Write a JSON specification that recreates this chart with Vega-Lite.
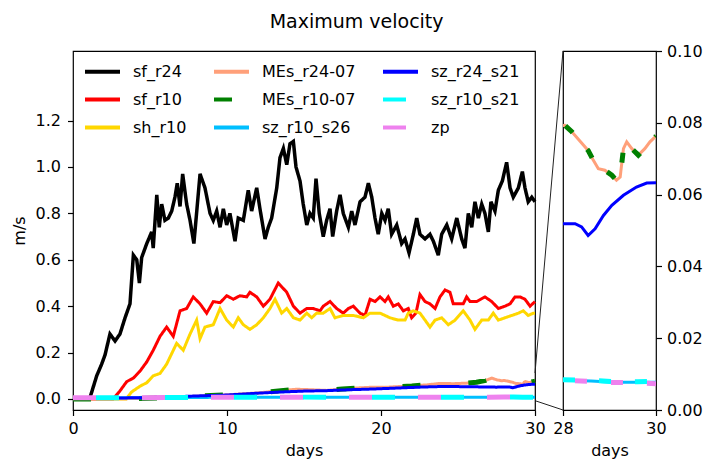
{
  "$schema": "https://vega.github.io/schema/vega-lite/v6.json",
  "padding": {"left": 10, "top": 13, "right": 0, "bottom": 2},
  "title": {"text": "Maximum velocity", "fontSize": 19, "font": "DejaVu Sans", "fontWeight": "normal", "color": "#000", "anchor": "middle", "offset": 10},
  "spacing": 28,
  "bounds": "flush",
  "config": {
    "font": "DejaVu Sans",
    "view": {"stroke": "#000", "strokeWidth": 1.2},
    "axis": {
      "domain": false, "grid": false,
      "labelFont": "DejaVu Sans", "labelFontSize": 16, "labelColor": "#000",
      "titleFont": "DejaVu Sans", "titleFontSize": 16, "titleFontWeight": "normal", "titleColor": "#000",
      "tickColor": "#000", "tickSize": 5.5, "tickWidth": 1.2, "labelPadding": 5,
      "labelFlush": false, "labelOverlap": false
    }
  },
  "datasets": {
    "vel": [
      {"series": "sf_r24", "day": 0, "v": 0.0},
      {"series": "sf_r24", "day": 0.6, "v": 0.0},
      {"series": "sf_r24", "day": 1.1, "v": 0.005},
      {"series": "sf_r24", "day": 1.54, "v": 0.10},
      {"series": "sf_r24", "day": 1.86, "v": 0.15},
      {"series": "sf_r24", "day": 2.08, "v": 0.19},
      {"series": "sf_r24", "day": 2.4, "v": 0.28},
      {"series": "sf_r24", "day": 2.73, "v": 0.25},
      {"series": "sf_r24", "day": 3.05, "v": 0.28},
      {"series": "sf_r24", "day": 3.38, "v": 0.35},
      {"series": "sf_r24", "day": 3.7, "v": 0.41},
      {"series": "sf_r24", "day": 3.92, "v": 0.62},
      {"series": "sf_r24", "day": 4.14, "v": 0.60},
      {"series": "sf_r24", "day": 4.31, "v": 0.50},
      {"series": "sf_r24", "day": 4.46, "v": 0.61},
      {"series": "sf_r24", "day": 4.79, "v": 0.67},
      {"series": "sf_r24", "day": 5.11, "v": 0.72},
      {"series": "sf_r24", "day": 5.21, "v": 0.65},
      {"series": "sf_r24", "day": 5.44, "v": 0.88},
      {"series": "sf_r24", "day": 5.6, "v": 0.74},
      {"series": "sf_r24", "day": 5.76, "v": 0.84},
      {"series": "sf_r24", "day": 5.97, "v": 0.77},
      {"series": "sf_r24", "day": 6.19, "v": 0.78},
      {"series": "sf_r24", "day": 6.41, "v": 0.81},
      {"series": "sf_r24", "day": 6.62, "v": 0.87},
      {"series": "sf_r24", "day": 6.77, "v": 0.93},
      {"series": "sf_r24", "day": 6.95, "v": 0.83},
      {"series": "sf_r24", "day": 7.12, "v": 0.97},
      {"series": "sf_r24", "day": 7.38, "v": 0.84},
      {"series": "sf_r24", "day": 7.6, "v": 0.77},
      {"series": "sf_r24", "day": 7.85, "v": 0.67},
      {"series": "sf_r24", "day": 8.25, "v": 0.97},
      {"series": "sf_r24", "day": 8.57, "v": 0.91},
      {"series": "sf_r24", "day": 8.9, "v": 0.80},
      {"series": "sf_r24", "day": 9.11, "v": 0.77},
      {"series": "sf_r24", "day": 9.33, "v": 0.81},
      {"series": "sf_r24", "day": 9.55, "v": 0.74},
      {"series": "sf_r24", "day": 9.76, "v": 0.82},
      {"series": "sf_r24", "day": 9.98, "v": 0.75},
      {"series": "sf_r24", "day": 10.19, "v": 0.80},
      {"series": "sf_r24", "day": 10.52, "v": 0.68},
      {"series": "sf_r24", "day": 10.73, "v": 0.78},
      {"series": "sf_r24", "day": 11.06, "v": 0.77},
      {"series": "sf_r24", "day": 11.38, "v": 0.90},
      {"series": "sf_r24", "day": 11.6, "v": 0.81},
      {"series": "sf_r24", "day": 11.93, "v": 0.91},
      {"series": "sf_r24", "day": 12.14, "v": 0.82},
      {"series": "sf_r24", "day": 12.47, "v": 0.69},
      {"series": "sf_r24", "day": 12.68, "v": 0.74},
      {"series": "sf_r24", "day": 12.9, "v": 0.78},
      {"series": "sf_r24", "day": 13.23, "v": 0.91},
      {"series": "sf_r24", "day": 13.44, "v": 1.04},
      {"series": "sf_r24", "day": 13.66, "v": 1.08},
      {"series": "sf_r24", "day": 13.88, "v": 1.01},
      {"series": "sf_r24", "day": 14.09, "v": 1.10},
      {"series": "sf_r24", "day": 14.31, "v": 1.11},
      {"series": "sf_r24", "day": 14.48, "v": 1.00},
      {"series": "sf_r24", "day": 14.74, "v": 0.94},
      {"series": "sf_r24", "day": 14.95, "v": 0.84},
      {"series": "sf_r24", "day": 15.18, "v": 0.75},
      {"series": "sf_r24", "day": 15.39, "v": 0.80},
      {"series": "sf_r24", "day": 15.6, "v": 0.78},
      {"series": "sf_r24", "day": 15.78, "v": 0.95},
      {"series": "sf_r24", "day": 15.99, "v": 0.80},
      {"series": "sf_r24", "day": 16.25, "v": 0.70},
      {"series": "sf_r24", "day": 16.47, "v": 0.77},
      {"series": "sf_r24", "day": 16.69, "v": 0.82},
      {"series": "sf_r24", "day": 16.86, "v": 0.70},
      {"series": "sf_r24", "day": 17.12, "v": 0.81},
      {"series": "sf_r24", "day": 17.34, "v": 0.88},
      {"series": "sf_r24", "day": 17.55, "v": 0.80},
      {"series": "sf_r24", "day": 17.88, "v": 0.74},
      {"series": "sf_r24", "day": 18.1, "v": 0.81},
      {"series": "sf_r24", "day": 18.31, "v": 0.75},
      {"series": "sf_r24", "day": 18.64, "v": 0.85},
      {"series": "sf_r24", "day": 18.96, "v": 0.87},
      {"series": "sf_r24", "day": 19.18, "v": 0.93},
      {"series": "sf_r24", "day": 19.4, "v": 0.87},
      {"series": "sf_r24", "day": 19.61, "v": 0.78},
      {"series": "sf_r24", "day": 19.82, "v": 0.71},
      {"series": "sf_r24", "day": 20.05, "v": 0.80},
      {"series": "sf_r24", "day": 20.26, "v": 0.77},
      {"series": "sf_r24", "day": 20.47, "v": 0.82},
      {"series": "sf_r24", "day": 20.69, "v": 0.71},
      {"series": "sf_r24", "day": 21.02, "v": 0.75},
      {"series": "sf_r24", "day": 21.34, "v": 0.67},
      {"series": "sf_r24", "day": 21.56, "v": 0.69},
      {"series": "sf_r24", "day": 21.82, "v": 0.63},
      {"series": "sf_r24", "day": 22.1, "v": 0.71},
      {"series": "sf_r24", "day": 22.32, "v": 0.78},
      {"series": "sf_r24", "day": 22.53, "v": 0.71},
      {"series": "sf_r24", "day": 22.86, "v": 0.69},
      {"series": "sf_r24", "day": 23.18, "v": 0.71},
      {"series": "sf_r24", "day": 23.4, "v": 0.68},
      {"series": "sf_r24", "day": 23.72, "v": 0.62},
      {"series": "sf_r24", "day": 23.94, "v": 0.71},
      {"series": "sf_r24", "day": 24.27, "v": 0.75},
      {"series": "sf_r24", "day": 24.59, "v": 0.69},
      {"series": "sf_r24", "day": 24.92, "v": 0.78},
      {"series": "sf_r24", "day": 25.24, "v": 0.69},
      {"series": "sf_r24", "day": 25.45, "v": 0.65},
      {"series": "sf_r24", "day": 25.67, "v": 0.80},
      {"series": "sf_r24", "day": 25.89, "v": 0.74},
      {"series": "sf_r24", "day": 26.1, "v": 0.85},
      {"series": "sf_r24", "day": 26.32, "v": 0.78},
      {"series": "sf_r24", "day": 26.54, "v": 0.84},
      {"series": "sf_r24", "day": 26.75, "v": 0.80},
      {"series": "sf_r24", "day": 26.97, "v": 0.72},
      {"series": "sf_r24", "day": 27.14, "v": 0.85},
      {"series": "sf_r24", "day": 27.4, "v": 0.81},
      {"series": "sf_r24", "day": 27.62, "v": 0.90},
      {"series": "sf_r24", "day": 27.88, "v": 0.94},
      {"series": "sf_r24", "day": 28.16, "v": 1.02},
      {"series": "sf_r24", "day": 28.38, "v": 0.91},
      {"series": "sf_r24", "day": 28.59, "v": 0.87},
      {"series": "sf_r24", "day": 28.92, "v": 0.91},
      {"series": "sf_r24", "day": 29.18, "v": 0.98},
      {"series": "sf_r24", "day": 29.35, "v": 0.91},
      {"series": "sf_r24", "day": 29.56, "v": 0.85},
      {"series": "sf_r24", "day": 29.79, "v": 0.87},
      {"series": "sf_r24", "day": 30.0, "v": 0.85},

      {"series": "sf_r10", "day": 0, "v": 0.0},
      {"series": "sf_r10", "day": 2.6, "v": 0.0},
      {"series": "sf_r10", "day": 3.05, "v": 0.035},
      {"series": "sf_r10", "day": 3.49, "v": 0.075},
      {"series": "sf_r10", "day": 3.92, "v": 0.09},
      {"series": "sf_r10", "day": 4.35, "v": 0.12},
      {"series": "sf_r10", "day": 4.79, "v": 0.16},
      {"series": "sf_r10", "day": 5.21, "v": 0.21},
      {"series": "sf_r10", "day": 5.65, "v": 0.27},
      {"series": "sf_r10", "day": 6.08, "v": 0.31},
      {"series": "sf_r10", "day": 6.51, "v": 0.27},
      {"series": "sf_r10", "day": 6.95, "v": 0.38},
      {"series": "sf_r10", "day": 7.38, "v": 0.39},
      {"series": "sf_r10", "day": 7.81, "v": 0.44},
      {"series": "sf_r10", "day": 8.25, "v": 0.41},
      {"series": "sf_r10", "day": 8.68, "v": 0.37},
      {"series": "sf_r10", "day": 9.11, "v": 0.42},
      {"series": "sf_r10", "day": 9.55, "v": 0.415},
      {"series": "sf_r10", "day": 9.98, "v": 0.445},
      {"series": "sf_r10", "day": 10.41, "v": 0.43},
      {"series": "sf_r10", "day": 10.84, "v": 0.445},
      {"series": "sf_r10", "day": 11.28, "v": 0.44},
      {"series": "sf_r10", "day": 11.49, "v": 0.46},
      {"series": "sf_r10", "day": 11.93, "v": 0.44},
      {"series": "sf_r10", "day": 12.36, "v": 0.40},
      {"series": "sf_r10", "day": 12.79, "v": 0.43},
      {"series": "sf_r10", "day": 13.33, "v": 0.50},
      {"series": "sf_r10", "day": 13.88, "v": 0.46},
      {"series": "sf_r10", "day": 14.31, "v": 0.40},
      {"series": "sf_r10", "day": 14.74, "v": 0.37},
      {"series": "sf_r10", "day": 15.18, "v": 0.39},
      {"series": "sf_r10", "day": 15.6, "v": 0.39},
      {"series": "sf_r10", "day": 16.04, "v": 0.38},
      {"series": "sf_r10", "day": 16.25, "v": 0.40},
      {"series": "sf_r10", "day": 16.69, "v": 0.42},
      {"series": "sf_r10", "day": 17.12, "v": 0.39},
      {"series": "sf_r10", "day": 17.55, "v": 0.37},
      {"series": "sf_r10", "day": 17.88, "v": 0.39},
      {"series": "sf_r10", "day": 18.2, "v": 0.40},
      {"series": "sf_r10", "day": 18.64, "v": 0.37},
      {"series": "sf_r10", "day": 18.96, "v": 0.36},
      {"series": "sf_r10", "day": 19.29, "v": 0.43},
      {"series": "sf_r10", "day": 19.61, "v": 0.42},
      {"series": "sf_r10", "day": 19.94, "v": 0.44},
      {"series": "sf_r10", "day": 20.26, "v": 0.42},
      {"series": "sf_r10", "day": 20.47, "v": 0.44},
      {"series": "sf_r10", "day": 20.8, "v": 0.40},
      {"series": "sf_r10", "day": 21.12, "v": 0.41},
      {"series": "sf_r10", "day": 21.45, "v": 0.38},
      {"series": "sf_r10", "day": 21.77, "v": 0.39},
      {"series": "sf_r10", "day": 21.99, "v": 0.35},
      {"series": "sf_r10", "day": 22.27, "v": 0.37},
      {"series": "sf_r10", "day": 22.53, "v": 0.45},
      {"series": "sf_r10", "day": 22.86, "v": 0.42},
      {"series": "sf_r10", "day": 23.18, "v": 0.41},
      {"series": "sf_r10", "day": 23.51, "v": 0.39},
      {"series": "sf_r10", "day": 23.83, "v": 0.44},
      {"series": "sf_r10", "day": 24.16, "v": 0.47},
      {"series": "sf_r10", "day": 24.48, "v": 0.46},
      {"series": "sf_r10", "day": 24.69, "v": 0.41},
      {"series": "sf_r10", "day": 25.02, "v": 0.41},
      {"series": "sf_r10", "day": 25.34, "v": 0.41},
      {"series": "sf_r10", "day": 25.56, "v": 0.44},
      {"series": "sf_r10", "day": 25.78, "v": 0.42},
      {"series": "sf_r10", "day": 26.21, "v": 0.42},
      {"series": "sf_r10", "day": 26.75, "v": 0.44},
      {"series": "sf_r10", "day": 27.19, "v": 0.42},
      {"series": "sf_r10", "day": 27.62, "v": 0.39},
      {"series": "sf_r10", "day": 28.05, "v": 0.40},
      {"series": "sf_r10", "day": 28.38, "v": 0.41},
      {"series": "sf_r10", "day": 28.7, "v": 0.44},
      {"series": "sf_r10", "day": 29.03, "v": 0.44},
      {"series": "sf_r10", "day": 29.35, "v": 0.43},
      {"series": "sf_r10", "day": 29.68, "v": 0.40},
      {"series": "sf_r10", "day": 30.0, "v": 0.42},

      {"series": "sh_r10", "day": 0, "v": 0.0},
      {"series": "sh_r10", "day": 3.45, "v": 0.0},
      {"series": "sh_r10", "day": 3.8, "v": 0.03},
      {"series": "sh_r10", "day": 4.35, "v": 0.055},
      {"series": "sh_r10", "day": 4.79, "v": 0.07},
      {"series": "sh_r10", "day": 5.21, "v": 0.10},
      {"series": "sh_r10", "day": 5.65, "v": 0.11},
      {"series": "sh_r10", "day": 6.08, "v": 0.15},
      {"series": "sh_r10", "day": 6.73, "v": 0.24},
      {"series": "sh_r10", "day": 7.16, "v": 0.21},
      {"series": "sh_r10", "day": 7.6, "v": 0.28},
      {"series": "sh_r10", "day": 8.03, "v": 0.34},
      {"series": "sh_r10", "day": 8.25, "v": 0.26},
      {"series": "sh_r10", "day": 8.57, "v": 0.31},
      {"series": "sh_r10", "day": 9.11, "v": 0.32},
      {"series": "sh_r10", "day": 9.55, "v": 0.39},
      {"series": "sh_r10", "day": 9.98, "v": 0.34},
      {"series": "sh_r10", "day": 10.41, "v": 0.31},
      {"series": "sh_r10", "day": 10.73, "v": 0.35},
      {"series": "sh_r10", "day": 11.06, "v": 0.32},
      {"series": "sh_r10", "day": 11.49, "v": 0.30},
      {"series": "sh_r10", "day": 11.93, "v": 0.32},
      {"series": "sh_r10", "day": 12.36, "v": 0.35},
      {"series": "sh_r10", "day": 12.79, "v": 0.39},
      {"series": "sh_r10", "day": 13.12, "v": 0.43},
      {"series": "sh_r10", "day": 13.55, "v": 0.37},
      {"series": "sh_r10", "day": 13.88, "v": 0.39},
      {"series": "sh_r10", "day": 14.31, "v": 0.35},
      {"series": "sh_r10", "day": 14.74, "v": 0.34},
      {"series": "sh_r10", "day": 15.18, "v": 0.37},
      {"series": "sh_r10", "day": 15.5, "v": 0.35},
      {"series": "sh_r10", "day": 15.82, "v": 0.37},
      {"series": "sh_r10", "day": 16.25, "v": 0.37},
      {"series": "sh_r10", "day": 16.69, "v": 0.39},
      {"series": "sh_r10", "day": 17.01, "v": 0.35},
      {"series": "sh_r10", "day": 17.55, "v": 0.36},
      {"series": "sh_r10", "day": 18.2, "v": 0.36},
      {"series": "sh_r10", "day": 18.85, "v": 0.35},
      {"series": "sh_r10", "day": 19.29, "v": 0.37},
      {"series": "sh_r10", "day": 19.94, "v": 0.37},
      {"series": "sh_r10", "day": 20.58, "v": 0.35},
      {"series": "sh_r10", "day": 21.12, "v": 0.34},
      {"series": "sh_r10", "day": 21.56, "v": 0.34},
      {"series": "sh_r10", "day": 21.77, "v": 0.37},
      {"series": "sh_r10", "day": 22.1, "v": 0.38},
      {"series": "sh_r10", "day": 22.53, "v": 0.37},
      {"series": "sh_r10", "day": 22.86, "v": 0.34},
      {"series": "sh_r10", "day": 23.18, "v": 0.31},
      {"series": "sh_r10", "day": 23.51, "v": 0.34},
      {"series": "sh_r10", "day": 23.94, "v": 0.35},
      {"series": "sh_r10", "day": 24.37, "v": 0.32},
      {"series": "sh_r10", "day": 24.81, "v": 0.34},
      {"series": "sh_r10", "day": 25.34, "v": 0.38},
      {"series": "sh_r10", "day": 25.78, "v": 0.34},
      {"series": "sh_r10", "day": 26.1, "v": 0.30},
      {"series": "sh_r10", "day": 26.54, "v": 0.34},
      {"series": "sh_r10", "day": 26.97, "v": 0.34},
      {"series": "sh_r10", "day": 27.29, "v": 0.37},
      {"series": "sh_r10", "day": 27.62, "v": 0.34},
      {"series": "sh_r10", "day": 28.05, "v": 0.35},
      {"series": "sh_r10", "day": 28.49, "v": 0.36},
      {"series": "sh_r10", "day": 28.92, "v": 0.37},
      {"series": "sh_r10", "day": 29.24, "v": 0.38},
      {"series": "sh_r10", "day": 29.56, "v": 0.36},
      {"series": "sh_r10", "day": 29.89, "v": 0.37},
      {"series": "sh_r10", "day": 30.0, "v": 0.37},

      {"series": "MEs_r24-07", "day": 0, "v": 0.0},
      {"series": "MEs_r24-07", "day": 2, "v": 0.0},
      {"series": "MEs_r24-07", "day": 4, "v": 0.002},
      {"series": "MEs_r24-07", "day": 6, "v": 0.005},
      {"series": "MEs_r24-07", "day": 8, "v": 0.012},
      {"series": "MEs_r24-07", "day": 10, "v": 0.018},
      {"series": "MEs_r24-07", "day": 12, "v": 0.026},
      {"series": "MEs_r24-07", "day": 13.5, "v": 0.036},
      {"series": "MEs_r24-07", "day": 14.5, "v": 0.042},
      {"series": "MEs_r24-07", "day": 15.4, "v": 0.040},
      {"series": "MEs_r24-07", "day": 16.5, "v": 0.037},
      {"series": "MEs_r24-07", "day": 17.5, "v": 0.043},
      {"series": "MEs_r24-07", "day": 18.6, "v": 0.048},
      {"series": "MEs_r24-07", "day": 19.5, "v": 0.051},
      {"series": "MEs_r24-07", "day": 20.2, "v": 0.050},
      {"series": "MEs_r24-07", "day": 21, "v": 0.053},
      {"series": "MEs_r24-07", "day": 22, "v": 0.056},
      {"series": "MEs_r24-07", "day": 23, "v": 0.061},
      {"series": "MEs_r24-07", "day": 23.8, "v": 0.067},
      {"series": "MEs_r24-07", "day": 24.7, "v": 0.066},
      {"series": "MEs_r24-07", "day": 25.5, "v": 0.068},
      {"series": "MEs_r24-07", "day": 26.2, "v": 0.072},
      {"series": "MEs_r24-07", "day": 26.8, "v": 0.080},
      {"series": "MEs_r24-07", "day": 27.2, "v": 0.090},
      {"series": "MEs_r24-07", "day": 27.5, "v": 0.083},
      {"series": "MEs_r24-07", "day": 27.8, "v": 0.079},
      {"series": "MEs_r24-07", "day": 28.04, "v": 0.0793},
      {"series": "MEs_r24-07", "day": 28.19, "v": 0.0775},
      {"series": "MEs_r24-07", "day": 28.54, "v": 0.0723},
      {"series": "MEs_r24-07", "day": 28.65, "v": 0.0696},
      {"series": "MEs_r24-07", "day": 28.76, "v": 0.0672},
      {"series": "MEs_r24-07", "day": 28.9, "v": 0.0668},
      {"series": "MEs_r24-07", "day": 29.05, "v": 0.0654},
      {"series": "MEs_r24-07", "day": 29.15, "v": 0.064},
      {"series": "MEs_r24-07", "day": 29.23, "v": 0.0649},
      {"series": "MEs_r24-07", "day": 29.3, "v": 0.0728},
      {"series": "MEs_r24-07", "day": 29.37, "v": 0.0747},
      {"series": "MEs_r24-07", "day": 29.48, "v": 0.0728},
      {"series": "MEs_r24-07", "day": 29.62, "v": 0.071},
      {"series": "MEs_r24-07", "day": 29.76, "v": 0.0728},
      {"series": "MEs_r24-07", "day": 29.87, "v": 0.0747},
      {"series": "MEs_r24-07", "day": 30.0, "v": 0.0763},

      {"series": "MEs_r10-07", "day": 0, "v": 0.0},
      {"series": "MEs_r10-07", "day": 2, "v": 0.0},
      {"series": "MEs_r10-07", "day": 4, "v": 0.002},
      {"series": "MEs_r10-07", "day": 6, "v": 0.005},
      {"series": "MEs_r10-07", "day": 8, "v": 0.012},
      {"series": "MEs_r10-07", "day": 10, "v": 0.018},
      {"series": "MEs_r10-07", "day": 12, "v": 0.026},
      {"series": "MEs_r10-07", "day": 13.5, "v": 0.036},
      {"series": "MEs_r10-07", "day": 14.5, "v": 0.042},
      {"series": "MEs_r10-07", "day": 15.4, "v": 0.040},
      {"series": "MEs_r10-07", "day": 16.5, "v": 0.037},
      {"series": "MEs_r10-07", "day": 17.5, "v": 0.043},
      {"series": "MEs_r10-07", "day": 18.6, "v": 0.048},
      {"series": "MEs_r10-07", "day": 19.5, "v": 0.051},
      {"series": "MEs_r10-07", "day": 20.2, "v": 0.050},
      {"series": "MEs_r10-07", "day": 21, "v": 0.053},
      {"series": "MEs_r10-07", "day": 22, "v": 0.056},
      {"series": "MEs_r10-07", "day": 23, "v": 0.061},
      {"series": "MEs_r10-07", "day": 23.8, "v": 0.067},
      {"series": "MEs_r10-07", "day": 24.7, "v": 0.066},
      {"series": "MEs_r10-07", "day": 25.5, "v": 0.068},
      {"series": "MEs_r10-07", "day": 26.2, "v": 0.072},
      {"series": "MEs_r10-07", "day": 26.8, "v": 0.080},
      {"series": "MEs_r10-07", "day": 27.2, "v": 0.090},
      {"series": "MEs_r10-07", "day": 27.5, "v": 0.083},
      {"series": "MEs_r10-07", "day": 27.8, "v": 0.079},
      {"series": "MEs_r10-07", "day": 28.04, "v": 0.0793},
      {"series": "MEs_r10-07", "day": 28.19, "v": 0.0775},
      {"series": "MEs_r10-07", "day": 28.54, "v": 0.0723},
      {"series": "MEs_r10-07", "day": 28.65, "v": 0.0696},
      {"series": "MEs_r10-07", "day": 28.76, "v": 0.0672},
      {"series": "MEs_r10-07", "day": 28.9, "v": 0.0668},
      {"series": "MEs_r10-07", "day": 29.05, "v": 0.0654},
      {"series": "MEs_r10-07", "day": 29.15, "v": 0.064},
      {"series": "MEs_r10-07", "day": 29.23, "v": 0.0649},
      {"series": "MEs_r10-07", "day": 29.3, "v": 0.0728},
      {"series": "MEs_r10-07", "day": 29.37, "v": 0.0747},
      {"series": "MEs_r10-07", "day": 29.48, "v": 0.0728},
      {"series": "MEs_r10-07", "day": 29.62, "v": 0.071},
      {"series": "MEs_r10-07", "day": 29.76, "v": 0.0728},
      {"series": "MEs_r10-07", "day": 29.87, "v": 0.0747},
      {"series": "MEs_r10-07", "day": 30.0, "v": 0.0763},

      {"series": "sz_r10_s26", "day": 0, "v": 0.005},
      {"series": "sz_r10_s26", "day": 3, "v": 0.005},
      {"series": "sz_r10_s26", "day": 6, "v": 0.006},
      {"series": "sz_r10_s26", "day": 9, "v": 0.007},
      {"series": "sz_r10_s26", "day": 12, "v": 0.007},
      {"series": "sz_r10_s26", "day": 15, "v": 0.008},
      {"series": "sz_r10_s26", "day": 18, "v": 0.008},
      {"series": "sz_r10_s26", "day": 21, "v": 0.008},
      {"series": "sz_r10_s26", "day": 24, "v": 0.008},
      {"series": "sz_r10_s26", "day": 27, "v": 0.008},
      {"series": "sz_r10_s26", "day": 28, "v": 0.0083},
      {"series": "sz_r10_s26", "day": 28.6, "v": 0.0081},
      {"series": "sz_r10_s26", "day": 29.1, "v": 0.0077},
      {"series": "sz_r10_s26", "day": 29.5, "v": 0.0077},
      {"series": "sz_r10_s26", "day": 30, "v": 0.0077},

      {"series": "sz_r24_s21", "day": 0, "v": 0.004},
      {"series": "sz_r24_s21", "day": 2, "v": 0.004},
      {"series": "sz_r24_s21", "day": 4, "v": 0.005},
      {"series": "sz_r24_s21", "day": 6, "v": 0.008},
      {"series": "sz_r24_s21", "day": 8, "v": 0.013},
      {"series": "sz_r24_s21", "day": 10, "v": 0.017},
      {"series": "sz_r24_s21", "day": 12, "v": 0.025},
      {"series": "sz_r24_s21", "day": 13.5, "v": 0.030},
      {"series": "sz_r24_s21", "day": 15, "v": 0.034},
      {"series": "sz_r24_s21", "day": 16.5, "v": 0.036},
      {"series": "sz_r24_s21", "day": 18, "v": 0.040},
      {"series": "sz_r24_s21", "day": 19.5, "v": 0.043},
      {"series": "sz_r24_s21", "day": 21, "v": 0.047},
      {"series": "sz_r24_s21", "day": 22.5, "v": 0.051},
      {"series": "sz_r24_s21", "day": 24, "v": 0.054},
      {"series": "sz_r24_s21", "day": 25.5, "v": 0.053},
      {"series": "sz_r24_s21", "day": 26.5, "v": 0.052},
      {"series": "sz_r24_s21", "day": 27.5, "v": 0.051},
      {"series": "sz_r24_s21", "day": 28.0, "v": 0.0519},
      {"series": "sz_r24_s21", "day": 28.26, "v": 0.0519},
      {"series": "sz_r24_s21", "day": 28.4, "v": 0.051},
      {"series": "sz_r24_s21", "day": 28.54, "v": 0.0486},
      {"series": "sz_r24_s21", "day": 28.69, "v": 0.0505},
      {"series": "sz_r24_s21", "day": 28.87, "v": 0.0542},
      {"series": "sz_r24_s21", "day": 29.05, "v": 0.057},
      {"series": "sz_r24_s21", "day": 29.3, "v": 0.0598},
      {"series": "sz_r24_s21", "day": 29.58, "v": 0.0621},
      {"series": "sz_r24_s21", "day": 29.8, "v": 0.0632},
      {"series": "sz_r24_s21", "day": 30.0, "v": 0.0633},

      {"series": "sz_r10_s21", "day": 0, "v": 0.005},
      {"series": "sz_r10_s21", "day": 3, "v": 0.005},
      {"series": "sz_r10_s21", "day": 6, "v": 0.006},
      {"series": "sz_r10_s21", "day": 9, "v": 0.007},
      {"series": "sz_r10_s21", "day": 12, "v": 0.007},
      {"series": "sz_r10_s21", "day": 15, "v": 0.008},
      {"series": "sz_r10_s21", "day": 18, "v": 0.008},
      {"series": "sz_r10_s21", "day": 21, "v": 0.008},
      {"series": "sz_r10_s21", "day": 24, "v": 0.008},
      {"series": "sz_r10_s21", "day": 27, "v": 0.008},
      {"series": "sz_r10_s21", "day": 28, "v": 0.0084},
      {"series": "sz_r10_s21", "day": 28.6, "v": 0.0083},
      {"series": "sz_r10_s21", "day": 29.2, "v": 0.0078},
      {"series": "sz_r10_s21", "day": 29.6, "v": 0.0079},
      {"series": "sz_r10_s21", "day": 30, "v": 0.0080},

      {"series": "zp", "day": 0, "v": 0.005},
      {"series": "zp", "day": 3, "v": 0.005},
      {"series": "zp", "day": 6, "v": 0.006},
      {"series": "zp", "day": 9, "v": 0.007},
      {"series": "zp", "day": 12, "v": 0.007},
      {"series": "zp", "day": 15, "v": 0.008},
      {"series": "zp", "day": 18, "v": 0.008},
      {"series": "zp", "day": 21, "v": 0.008},
      {"series": "zp", "day": 24, "v": 0.008},
      {"series": "zp", "day": 27, "v": 0.008},
      {"series": "zp", "day": 28, "v": 0.0083},
      {"series": "zp", "day": 29, "v": 0.0077},
      {"series": "zp", "day": 29.6, "v": 0.0076},
      {"series": "zp", "day": 30, "v": 0.0073}
    ]
  },
  "hconcat": [
    {
      "width": 462,
      "height": 359,
      "data": {"name": "vel"},
      "encoding": {
        "x": {"field": "day", "type": "quantitative",
              "scale": {"domain": [0, 30], "nice": false, "zero": false},
              "axis": {"values": [0, 10, 20, 30], "title": "days", "titlePadding": 6}},
        "y": {"field": "v", "type": "quantitative",
              "scale": {"domain": [-0.0475, 1.5], "nice": false, "zero": false},
              "axis": {"values": [0, 0.2, 0.4, 0.6, 0.8, 1.0, 1.2], "format": ".1f", "title": "m/s", "titlePadding": 8, "labelPadding": 7}},
        "color": {
          "field": "series", "type": "nominal",
          "scale": {
            "domain": ["sf_r24", "sf_r10", "sh_r10", "MEs_r24-07", "MEs_r10-07", "sz_r10_s26", "sz_r24_s21", "sz_r10_s21", "zp"],
            "range": ["#000000", "#ff0000", "#ffd700", "#ffa07a", "#008000", "#00bfff", "#0000ff", "#00ffff", "#ee82ee"]
          },
          "legend": {
            "title": null, "orient": "none", "legendX": 10, "legendY": 1, "columns": 3,
            "symbolType": "stroke", "symbolSize": 1225, "symbolStrokeWidth": 4,
            "labelFont": "DejaVu Sans", "labelFontSize": 16, "labelColor": "#000", "labelOffset": 11,
            "columnPadding": 19, "rowPadding": -22, "padding": 0
          }
        },
        "strokeDash": {
          "field": "series", "type": "nominal",
          "scale": {
            "domain": ["sf_r24", "sf_r10", "sh_r10", "MEs_r24-07", "MEs_r10-07", "sz_r10_s26", "sz_r24_s21", "sz_r10_s21", "zp"],
            "range": [[1, 0], [1, 0], [1, 0], [1, 0], [18, 48], [1, 0], [1, 0], [23, 46], [23, 46]]
          },
          "legend": {
            "title": null, "orient": "none", "legendX": 10, "legendY": 1, "columns": 3,
            "symbolType": "stroke", "symbolSize": 1225, "symbolStrokeWidth": 4,
            "labelFont": "DejaVu Sans", "labelFontSize": 16, "labelColor": "#000", "labelOffset": 11,
            "columnPadding": 19, "rowPadding": -22, "padding": 0
          }
        }
      },
      "layer": [
        {"transform": [{"filter": "datum.series === 'sf_r24'"}], "mark": {"type": "line", "strokeWidth": 3.5}},
        {"transform": [{"filter": "datum.series === 'sf_r10'"}], "mark": {"type": "line", "strokeWidth": 3}},
        {"transform": [{"filter": "datum.series === 'sh_r10'"}], "mark": {"type": "line", "strokeWidth": 3}},
        {"transform": [{"filter": "datum.series === 'MEs_r24-07'"}], "mark": {"type": "line", "strokeWidth": 3}},
        {"transform": [{"filter": "datum.series === 'MEs_r10-07'"}], "mark": {"type": "line", "strokeWidth": 5}},
        {"transform": [{"filter": "datum.series === 'sz_r10_s26'"}], "mark": {"type": "line", "strokeWidth": 3}},
        {"transform": [{"filter": "datum.series === 'sz_r24_s21'"}], "mark": {"type": "line", "strokeWidth": 3}},
        {"transform": [{"filter": "datum.series === 'sz_r10_s21'"}], "mark": {"type": "line", "strokeWidth": 5, "strokeDashOffset": 46}},
        {"transform": [{"filter": "datum.series === 'zp'"}], "mark": {"type": "line", "strokeWidth": 5}}
      ]
    },
    {
      "width": 93,
      "height": 359,
      "data": {"name": "vel"},
      "encoding": {
        "x": {"field": "day", "type": "quantitative",
              "scale": {"domain": [28, 30], "nice": false, "zero": false},
              "axis": {"values": [28, 30], "title": "days", "titlePadding": 6}},
        "y": {"field": "v", "type": "quantitative",
              "scale": {"domain": [0, 0.1], "nice": false, "zero": false},
              "axis": {"orient": "right", "values": [0, 0.02, 0.04, 0.06, 0.08, 0.1], "format": ".2f", "title": null}}
      },
      "layer": [
        {"transform": [{"filter": "datum.series === 'MEs_r24-07' && datum.day >= 27.5"}], "mark": {"type": "line", "strokeWidth": 3, "clip": true, "color": "#ffa07a"}},
        {"transform": [{"filter": "datum.series === 'MEs_r10-07' && datum.day >= 27.5"}], "mark": {"type": "line", "strokeWidth": 5, "clip": true, "color": "#008000", "strokeDash": [10, 22]}},
        {"transform": [{"filter": "datum.series === 'sz_r10_s26' && datum.day >= 27.5"}], "mark": {"type": "line", "strokeWidth": 3, "clip": true, "color": "#00bfff"}},
        {"transform": [{"filter": "datum.series === 'sz_r24_s21' && datum.day >= 27.5"}], "mark": {"type": "line", "strokeWidth": 3, "clip": true, "color": "#0000ff"}},
        {"transform": [{"filter": "datum.series === 'sz_r10_s21' && datum.day >= 27.5"}], "mark": {"type": "line", "strokeWidth": 5, "clip": true, "color": "#00ffff", "strokeDash": [12, 24]}},
        {"transform": [{"filter": "datum.series === 'zp' && datum.day >= 27.5"}], "mark": {"type": "line", "strokeWidth": 5, "clip": true, "color": "#ee82ee", "strokeDash": [12, 24], "strokeDashOffset": 24}},
        {
          "data": {"values": [
            {"day": 27.398, "v": 0.0103, "day2": 28, "v2": 0.1},
            {"day": 27.398, "v": 0.0026, "day2": 28, "v2": 0.0}
          ]},
          "mark": {"type": "rule", "strokeWidth": 1, "color": "#222", "clip": false},
          "encoding": {
            "x2": {"field": "day2"},
            "y2": {"field": "v2"}
          }
        }
      ]
    }
  ],
  "resolve": {"scale": {"x": "independent", "y": "independent"}}
}
